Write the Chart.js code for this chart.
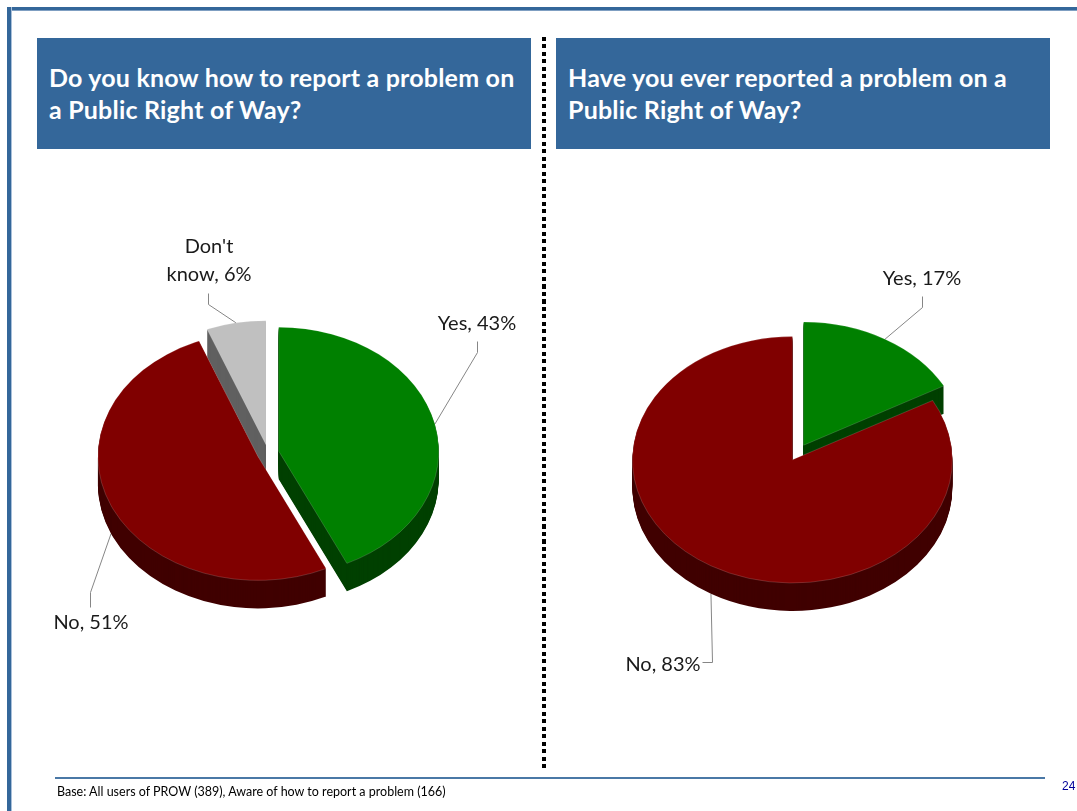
<!DOCTYPE html>
<html>
<head>
<meta charset="utf-8">
<title>Public Right of Way</title>
<script src="https://cdn.jsdelivr.net/npm/chart.js@4"></script>
<style>
  html, body { margin: 0; padding: 0; background: #fff; }
  #page { position: relative; width: 1077px; height: 811px; overflow: hidden; font-family: Lato, "Open Sans", sans-serif; }
  #page canvas { position: absolute; left: 0; top: 0; }
  .frameTop { position: absolute; left: 7px; top: 7px; width: 1070px; height: 3px; background: #34679a; box-shadow: 0 1px 0 #7f9fc2; }
  .frameLeft { position: absolute; left: 7px; top: 7px; width: 4px; height: 804px; background: #34679a; box-shadow: 1px 0 0 #a9c0da; }
  .head { position: absolute; top: 38px; width: 494px; height: 111px; background: #34679a; color: #fff; box-sizing: border-box;
          font-weight: 700; font-size: 25px; letter-spacing: 0.2px; line-height: 32px; padding: 23px 0 0 12px; white-space: nowrap; }
  .divider { position: absolute; left: 542px; top: 37px; width: 4px; height: 733px;
             background: repeating-linear-gradient(to bottom, #000 0 4px, transparent 4px 7.5px); }
  .rule { position: absolute; left: 55px; top: 777px; width: 990px; height: 2px; background: #4a78a6; }
  .base { position: absolute; left: 57px; top: 784px; font-size: 12.5px; color: #000; white-space: nowrap; }
  .num { position: absolute; left: 1062px; top: 779px; font: 12px "Liberation Sans", Arial, sans-serif; color: #000099; }
</style>
</head>
<body>
<div id="page">
  <div class="frameTop"></div>
  <div class="frameLeft"></div>
  <div class="head" style="left:37px">Do you know how to report a problem on<br>a Public Right of Way?</div>
  <div class="head" style="left:556px">Have you ever reported a problem on a<br>Public Right of Way?</div>
  <div class="divider"></div>
  <canvas id="pieLeft" width="1077" height="811"></canvas>
  <canvas id="pieRight" width="1077" height="811"></canvas>
  <div class="rule"></div>
  <div class="base">Base: All users of PROW (389), Aware of how to report a problem (166)</div>
  <div class="num">24</div>
</div>

<script>
// Chart values
const categoriesLeft = ['Yes', 'No', "Don't know"];
const valuesLeft = [43, 51, 6];
const categoriesRight = ['Yes', 'No'];
const valuesRight = [17, 83];

// Slice colours: top face and side wall
const topColors = ['#008000', '#800000', '#c0c0c0'];
const wallColors = ['#004000', '#400000', '#606060'];

const RADIUS = 160;
const DEPTH = 28;
const EXPLODE = 11;
const LABEL_FONT = '20px Lato, "Open Sans", sans-serif';

// Leader elbow and text centre for each slice, page pixels
const labelsLeft = [
  { elbow: [[477, 352], [477, 341]], text: ['Yes, 43%'], at: [477, 324] },
  { elbow: [[90, 592], [90, 607]], text: ['No, 51%'], at: [91, 623] },
  { elbow: [[208, 304], [208, 293]], text: ["Don't", 'know, 6%'], at: [209, 247] }
];
const labelsRight = [
  { elbow: [[922, 307], [922, 296]], text: ['Yes, 17%'], at: [922, 279] },
  { elbow: [[712, 662], [702, 662]], text: ['No, 83%'], at: [663, 665] }
];

// Draws one arc through the library, moved out from the centre and squashed into an ellipse
function drawSlice(ctx, arc, squash, drop, color, edge) {
  const mid = (arc.startAngle + arc.endAngle) / 2;
  const saved = arc.options;
  arc.options = { backgroundColor: color, borderColor: edge || color, borderWidth: edge ? 0.6 : 0, offset: 0, spacing: 0, circular: true, borderRadius: 0 };
  ctx.save();
  ctx.translate(arc.x, arc.y + drop);
  ctx.scale(1, squash);
  ctx.translate(-arc.x, -arc.y);
  ctx.translate(Math.cos(mid) * EXPLODE, Math.sin(mid) * EXPLODE);
  arc.draw(ctx);
  ctx.restore();
  arc.options = saved;
}

// Point on the rim in the middle of the slice, on the wall when it faces the viewer
function rimPoint(arc, squash) {
  const mid = (arc.startAngle + arc.endAngle) / 2;
  const r = arc.outerRadius;
  const x = arc.x + Math.cos(mid) * (r + EXPLODE);
  const y = arc.y + Math.sin(mid) * (r + EXPLODE) * squash;
  return [x, Math.sin(mid) > 0 ? y + DEPTH : y];
}

function pie3d(squash, labels) {
  return {
    id: 'pie3d',
    beforeDatasetsDraw(chart) {
      const ctx = chart.ctx;
      const arcs = chart.getDatasetMeta(0).data;

      // Leader lines go under the pie
      ctx.save();
      ctx.strokeStyle = '#868686';
      ctx.lineWidth = 1;
      arcs.forEach((arc, i) => {
        const p = rimPoint(arc, squash);
        ctx.beginPath();
        ctx.moveTo(p[0], p[1]);
        labels[i].elbow.forEach(e => ctx.lineTo(e[0] + 0.5, e[1] + 0.5));
        ctx.stroke();
      });
      ctx.restore();

      // Side walls, stacked downwards
      for (let d = DEPTH; d > 0; d--) {
        arcs.forEach((arc, i) => drawSlice(ctx, arc, squash, d, wallColors[i]));
      }
      arcs.forEach((arc, i) => drawSlice(ctx, arc, squash, 0, topColors[i], 'rgba(255,255,255,0.3)'));

      // Text labels
      ctx.save();
      ctx.font = LABEL_FONT;
      ctx.fillStyle = '#1a1a1a';
      ctx.textAlign = 'center';
      ctx.textBaseline = 'middle';
      labels.forEach(l => {
        l.text.forEach((t, k) => ctx.fillText(t, l.at[0], l.at[1] + k * 28));
      });
      ctx.restore();
      return false;
    }
  };
}

function crearPie(id, categories, values, cx, cy, squash, labels) {
  new Chart(document.getElementById(id), {
    type: 'pie',
    data: {
      labels: categories,
      datasets: [{ data: values, backgroundColor: topColors.slice(0, values.length), borderWidth: 0 }]
    },
    options: {
      responsive: false,
      animation: false,
      layout: { padding: { left: cx - RADIUS, right: 1077 - cx - RADIUS, top: cy - RADIUS, bottom: 811 - cy - RADIUS } },
      plugins: { legend: { display: false }, tooltip: { enabled: false } }
    },
    plugins: [pie3d(squash, labels)]
  });
}

crearPie('pieLeft', categoriesLeft, valuesLeft, 268, 453, 0.775, labelsLeft);
crearPie('pieRight', categoriesRight, valuesRight, 798, 452.5, 0.77, labelsRight);
</script>
</body>
</html>
